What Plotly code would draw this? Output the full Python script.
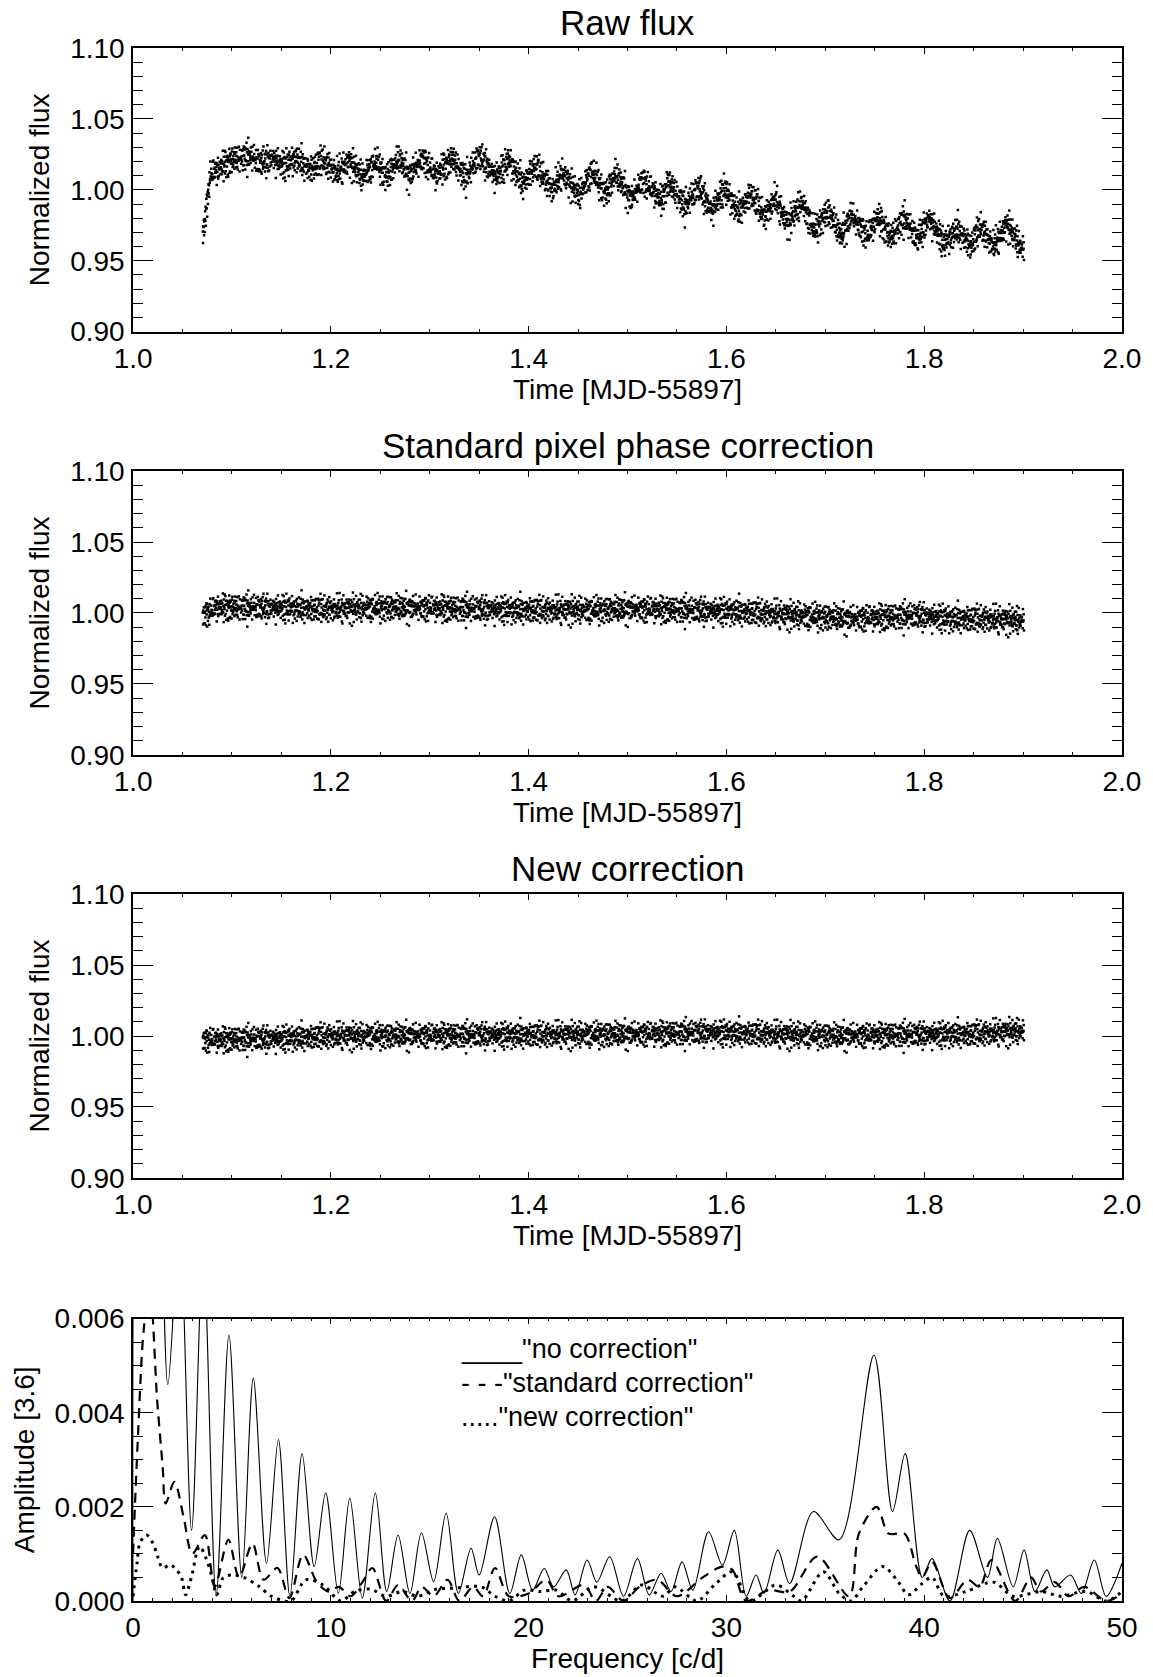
import numpy as np
import plotly.graph_objects as go

# ---------------- data ----------------
# light curves: (time, local median flux) read off the cloud centre
RAW_CTRL = [(1.0705, 0.968), (1.0740, 0.985), (1.0778, 1.010), (1.0850, 1.014), (1.0913, 1.017),
            (1.1000, 1.021), (1.108, 1.022), (1.118, 1.024), (1.128, 1.019), (1.142, 1.022),
            (1.152, 1.017), (1.165, 1.022), (1.179, 1.014), (1.192, 1.021), (1.206, 1.012),
            (1.219, 1.020), (1.232, 1.009), (1.246, 1.020), (1.256, 1.009), (1.269, 1.022),
            (1.279, 1.010), (1.293, 1.022), (1.306, 1.010), (1.323, 1.022), (1.336, 1.008),
            (1.350, 1.024), (1.367, 1.009), (1.380, 1.021), (1.394, 1.004), (1.407, 1.017),
            (1.424, 1.000), (1.434, 1.012), (1.451, 0.996), (1.464, 1.013), (1.478, 0.997),
            (1.488, 1.011), (1.504, 0.993), (1.515, 1.007), (1.535, 0.992), (1.541, 1.006),
            (1.558, 0.988), (1.572, 1.002), (1.585, 0.985), (1.598, 1.001), (1.612, 0.984),
            (1.625, 0.997), (1.639, 0.981), (1.649, 0.994), (1.662, 0.976), (1.676, 0.991),
            (1.689, 0.971), (1.703, 0.985), (1.716, 0.967), (1.726, 0.982), (1.743, 0.967),
            (1.753, 0.981), (1.766, 0.966), (1.780, 0.980), (1.793, 0.965), (1.805, 0.980),
            (1.820, 0.962), (1.834, 0.972), (1.847, 0.960), (1.857, 0.974), (1.870, 0.960),
            (1.884, 0.976), (1.897, 0.960), (1.901, 0.958)]
STD_CTRL = [(1.0705, 0.998), (1.085, 1.0038), (1.125, 1.0038), (1.192, 1.0027), (1.259, 1.0038),
            (1.326, 1.003), (1.394, 1.002), (1.461, 1.002), (1.501, 1.0027), (1.558, 1.002),
            (1.625, 1.0004), (1.676, 0.998), (1.726, 0.9958), (1.760, 0.997), (1.793, 0.998),
            (1.827, 0.9958), (1.860, 0.9958), (1.901, 0.9946)]
NEW_CTRL = [(1.0705, 0.9970), (1.10, 0.9976), (1.16, 0.9985), (1.205, 1.0000), (1.375, 1.0005),
            (1.510, 1.0012), (1.578, 1.0023), (1.645, 1.0012), (1.713, 1.0000), (1.780, 1.0007),
            (1.848, 1.0012), (1.901, 1.0035)]
CLOUD_SPREAD = [0.0054, 0.0050, 0.0047]          # typical vertical scatter of each cloud
JIT_A = [0.3, -1.1, 0.8, -0.2, 1.6, -0.7, 0.1, -1.5, 0.9, 0.4, -0.4, 1.2, -0.9, 0.0, 2.1, -0.3,
         0.6, -1.8, 0.2, 1.0, -0.6, -0.1, 1.4, -1.2, 0.5, -2.3, 0.7, -0.5, 0.15, 1.9, -0.8, 0.35,
         -1.35, 1.1, -0.05, 0.55, -0.95]
JIT_B = [0.4, -0.6, 0.1, 0.9, -0.3, -1.0, 0.5, 0.0, -0.8, 1.2, -0.2, 0.3, -1.4, 0.7, -0.4, 0.2,
         1.5, -0.7, 0.6, -0.1, -1.1, 0.8, -0.5]
T_START, T_END, CADENCE = 1.0705, 1.9010, 0.00026

# amplitude spectra: (frequency, amplitude) at lobe peaks and dips
SOLID = [(0.0, 0.0), (0.25, 0.012), (1.0, 0.015), (1.76, 0.0046), (2.35, 0.008), (2.96, 0.0015),
         (3.55, 0.0075), (4.2, 0.0001), (4.85, 0.00565), (5.5, 0.0005), (6.08, 0.00473),
         (6.75, 0.0008), (7.35, 0.00343), (7.93, 0.0001), (8.55, 0.00313), (9.16, 0.00073),
         (9.74, 0.0023), (10.38, 0.00016), (10.96, 0.00218), (11.59, 0.00006), (12.25, 0.00229),
         (12.83, 0.0002), (13.4, 0.0014), (14.0, 0.00016), (14.58, 0.00145), (15.2, 0.00041),
         (15.83, 0.00187), (16.45, 0.00016), (17.09, 0.00112), (17.5, 0.00055), (18.28, 0.00179),
         (19.05, 0.00016), (19.63, 0.00098), (20.2, 0.00023), (20.79, 0.00069), (21.27, 0.0003),
         (21.9, 0.00066), (22.35, 0.00013), (22.96, 0.00087), (23.45, 0.0004), (24.1, 0.00094),
         (24.8, 0.0001), (25.5, 0.0009), (26.1, 0.00013), (26.7, 0.00059), (27.2, 0.0002),
         (27.76, 0.00083), (28.3, 0.00023), (29.1, 0.00147), (29.8, 0.00076), (30.4, 0.0015),
         (31.0, 0.0001), (31.5, 0.00055), (31.9, 0.00016), (32.6, 0.00108), (33.2, 0.00037),
         (34.4, 0.0019), (35.7, 0.0013), (37.46, 0.00522), (38.4, 0.0019), (39.04, 0.00313),
         (39.9, 0.0005), (40.4, 0.0009), (41.3, 0.0), (42.3, 0.0015), (43.2, 0.0005),
         (43.7, 0.00133), (44.5, 0.0003), (45.05, 0.00108), (45.6, 0.0002), (46.2, 0.00066),
         (46.6, 0.0003), (47.4, 0.00055), (47.95, 0.00016), (48.6, 0.00087), (49.2, 0.0001),
         (50.0, 0.0008)]
DASHED = [(0.0, 0.0010), (0.25, 0.0035), (0.55, 0.0058), (0.85, 0.0066), (1.22, 0.00427),
          (1.5, 0.00285), (1.65, 0.00207), (2.09, 0.00253), (2.55, 0.0018), (3.0, 0.0010),
          (3.63, 0.0014), (4.13, 0.0003), (4.82, 0.0013), (5.36, 0.0005), (6.04, 0.00122),
          (6.6, 0.00045), (7.3, 0.0007), (7.9, 0.00006), (8.6, 0.00098), (9.3, 0.0004),
          (9.9, 0.0002), (10.4, 0.0003), (11.0, 0.0001), (11.6, 0.0004), (12.1, 0.0007),
          (12.8, 0.0), (13.4, 0.00034), (14.1, 0.0), (14.6, 0.0003), (15.2, 0.0001),
          (15.9, 0.00045), (16.5, 0.0), (17.2, 0.0003), (17.7, 0.0001), (18.3, 0.0007),
          (19.0, 0.0001), (20.0, 0.00016), (20.9, 0.00045), (21.5, 0.0001), (22.8, 0.00034),
          (23.4, 0.0), (24.0, 0.0003), (24.8, 0.0), (25.6, 0.0003), (26.5, 0.00045),
          (27.5, 0.0001), (28.8, 0.0005), (29.8, 0.00073), (30.3, 0.00066), (31.0, 0.0),
          (32.1, 0.00023), (33.2, 0.0002), (34.6, 0.00094), (36.2, 0.0001), (36.7, 0.00143),
          (37.6, 0.0020), (38.2, 0.00143), (39.0, 0.00143), (39.6, 0.00073), (39.9, 0.0005),
          (40.4, 0.00083), (41.3, 0.00006), (42.2, 0.00045), (42.8, 0.0003), (43.4, 0.00087),
          (44.6, 0.0), (45.4, 0.0005), (45.9, 0.0002), (46.6, 0.0004), (47.3, 0.0001),
          (48.1, 0.0003), (49.2, 0.0), (50.0, 0.00016)]
DOTTED = [(0.0, 0.0001), (0.2, 0.0008), (0.35, 0.00123), (0.68, 0.0014), (1.0, 0.00123),
          (1.25, 0.00094), (1.5, 0.0007), (1.88, 0.00077), (2.2, 0.00066), (2.45, 0.0005),
          (2.66, 0.00013), (2.95, 0.0005), (3.36, 0.00116), (3.7, 0.0009), (4.0, 0.0005),
          (4.23, 0.00013), (4.57, 0.0005), (5.0, 0.00055), (5.6, 0.0005), (6.4, 0.0003),
          (7.0, 0.0001), (7.97, 0.0), (8.74, 0.00045), (9.6, 0.00034), (10.5, 0.0),
          (11.2, 0.0002), (12.0, 0.00025), (12.8, 0.0001), (13.6, 0.0002), (14.4, 0.0001),
          (15.3, 0.00025), (16.2, 0.00027), (17.6, 0.0003), (18.3, 0.0001), (19.0, 0.0),
          (19.8, 0.00023), (20.6, 0.0002), (21.4, 0.00023), (22.2, 0.0), (23.3, 0.0003),
          (24.7, 0.0), (25.7, 0.00034), (26.8, 0.0001), (27.4, 0.0003), (28.5, 0.0),
          (29.4, 0.00034), (30.3, 0.00062), (31.2, 0.0), (32.5, 0.00034), (33.4, 0.0001),
          (33.8, 0.0), (34.9, 0.00062), (35.7, 0.00016), (36.3, 0.0), (36.9, 0.0003),
          (37.9, 0.00073), (38.7, 0.0004), (39.2, 0.00013), (39.9, 0.00037), (40.4, 0.0005),
          (41.0, 0.0001), (42.1, 0.0002), (43.5, 0.0004), (44.5, 0.0001), (45.9, 0.0002),
          (46.9, 0.0001), (48.2, 0.0002), (49.2, 0.0), (50.0, 0.0002)]

PANEL_TITLES = ["Raw flux", "Standard pixel phase correction", "New correction"]
LEGEND_TEXT = ['____"no correction"', '- - -"standard correction"', '....."new correction"']
FLUX_TICKS = [0.90, 0.95, 1.00, 1.05, 1.10]
TIME_TICKS = [1.0, 1.2, 1.4, 1.6, 1.8, 2.0]
FREQ_TICKS = [0, 10, 20, 30, 40, 50]
AMP_TICKS = [0.000, 0.002, 0.004, 0.006]

# ---------------- build the figure ----------------
FONT = "Liberation Sans, Arial, Helvetica, sans-serif"
t = np.arange(T_START, T_END, CADENCE)
idx = np.arange(len(t))
jit = 0.8 * np.array(JIT_A)[idx % len(JIT_A)] + 0.6 * np.array(JIT_B)[idx % len(JIT_B)]


def cloud(ctrl, spread):
    ct, cf = zip(*ctrl)
    return np.interp(t, ct, cf) + spread * jit


fig = go.Figure()
for k, ctrl in enumerate([RAW_CTRL, STD_CTRL, NEW_CTRL]):
    sfx = "" if k == 0 else str(k + 1)
    fig.add_trace(go.Scatter(x=t, y=cloud(ctrl, CLOUD_SPREAD[k]), mode="markers",
                             marker=dict(symbol="square", size=2.5, color="black", line=dict(width=0)),
                             xaxis="x" + sfx, yaxis="y" + sfx, showlegend=False, hoverinfo="skip"))

for data, dash, width in [(SOLID, "solid", 1.1), (DASHED, "10px,7px", 2.2), (DOTTED, "3px,5px", 3)]:
    f, a = zip(*data)
    fig.add_trace(go.Scatter(x=f, y=a, mode="lines",
                             line=dict(color="black", width=width, dash=dash, shape="spline", smoothing=0.9),
                             xaxis="x4", yaxis="y4", showlegend=False, hoverinfo="skip"))

common = dict(showline=True, linecolor="black", linewidth=1.5, mirror="ticks", ticks="inside",
              tickcolor="black", tickwidth=1.2, showgrid=False, zeroline=False,
              tickfont=dict(size=28, color="black", family=FONT))

domains = [[0.8173, 1.0], [0.5448, 0.7276], [0.2724, 0.4552], [0.0, 0.1819]]
layout = dict(width=1153, height=1677, paper_bgcolor="white", plot_bgcolor="white",
              margin=dict(l=133, r=28, t=48, b=76), font=dict(family=FONT, color="black"),
              showlegend=False)
for k in range(3):
    sfx = "" if k == 0 else str(k + 1)
    layout["xaxis" + sfx] = dict(common, domain=[0, 1], anchor="y" + sfx, range=[0.9999, 2.0001],
                                 tickvals=TIME_TICKS, ticktext=[f"{v:.1f}" for v in TIME_TICKS], ticklen=6,
                                 ticklabelstandoff=1,
                                 minor=dict(dtick=0.05, tick0=1.0, ticklen=3, ticks="inside", tickcolor="black", tickwidth=1.2),
                                 title=dict(text="Time [MJD-55897]", font=dict(size=28), standoff=0))
    layout["yaxis" + sfx] = dict(common, domain=domains[k], anchor="x" + sfx, range=[0.89995, 1.10005],
                                 tickvals=FLUX_TICKS, ticktext=[f"{v:.2f}" for v in FLUX_TICKS], ticklen=20,
                                 ticklabelstandoff=1,
                                 minor=dict(dtick=0.01, tick0=0.9, ticklen=10, ticks="inside", tickcolor="black", tickwidth=1.2),
                                 title=dict(text="Normalized flux", font=dict(size=28), standoff=12))
layout["xaxis4"] = dict(common, domain=[0, 1], anchor="y4", range=[-0.001, 50.001],
                        tickvals=FREQ_TICKS, ticktext=[str(v) for v in FREQ_TICKS], ticklen=6,
                        ticklabelstandoff=1,
                        minor=dict(dtick=1, tick0=0, ticklen=3, ticks="inside", tickcolor="black", tickwidth=1.2),
                        title=dict(text="Frequency [c/d]", font=dict(size=28), standoff=0))
layout["yaxis4"] = dict(common, domain=domains[3], anchor="x4", range=[-0.000001, 0.006001],
                        tickvals=AMP_TICKS, ticktext=[f"{v:.3f}" for v in AMP_TICKS], ticklen=20,
                        ticklabelstandoff=1,
                        minor=dict(dtick=0.0005, tick0=0, ticklen=10, ticks="inside", tickcolor="black", tickwidth=1.2),
                        title=dict(text="Amplitude [3.6]", font=dict(size=28), standoff=12))

annotations = []
for k, title in enumerate(PANEL_TITLES):
    sfx = "" if k == 0 else str(k + 1)
    annotations.append(dict(text=title, xref="x" + sfx + " domain", yref="y" + sfx + " domain",
                            x=0.5, y=1, xanchor="center", yanchor="bottom", yshift=4,
                            showarrow=False, font=dict(size=35, family=FONT, color="black")))
for txt, yv in zip(LEGEND_TEXT, [0.00535, 0.00463, 0.00391]):
    annotations.append(dict(text=txt, xref="x4", yref="y4", x=16.5, y=yv, xanchor="left",
                            yanchor="middle", showarrow=False,
                            font=dict(size=27, family=FONT, color="black")))
layout["annotations"] = annotations

fig.update_layout(**layout)
fig.write_html("out.html", config={"displayModeBar": False},
               post_script="document.body.style.margin='0';document.body.style.overflow='hidden';")
